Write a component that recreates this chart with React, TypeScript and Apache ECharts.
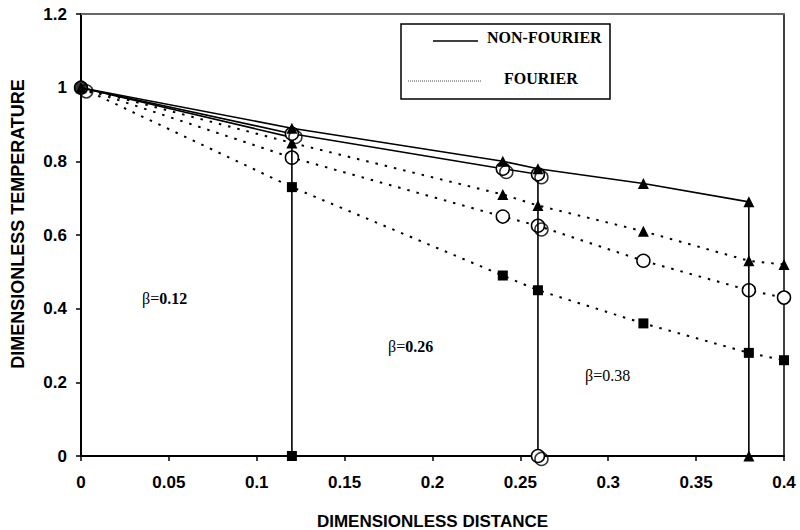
import React, { useEffect, useRef } from "react";
import * as echarts from "echarts";

// Non-Fourier (solid) curves, wave front at x = beta
const nf38X = [0, 0.12, 0.24, 0.26, 0.32, 0.38, 0.38];
const nf38Y = [1, 0.89, 0.8, 0.78, 0.74, 0.69, 0];
const nf26X = [0, 0.12, 0.24, 0.26, 0.26];
const nf26Y = [1, 0.875, 0.78, 0.765, 0];
const nf12X = [0, 0.12, 0.12];
const nf12Y = [1, 0.865, 0];

// Fourier (dotted) curves
const fX = [0, 0.12, 0.24, 0.26, 0.32, 0.38, 0.4];
const fTriY = [1, 0.85, 0.71, 0.68, 0.61, 0.53, 0.52];
const fCirY = [1, 0.81, 0.65, 0.625, 0.53, 0.45, 0.43];
const fSqY = [1, 0.73, 0.49, 0.45, 0.36, 0.28, 0.26];

// overlapping duplicate open circles
const dupCirX = [0.003, 0.122, 0.242, 0.262, 0.262, 0.262];
const dupCirY = [0.99, 0.866, 0.771, 0.757, 0.615, -0.008];

const originX = [0];
const originY = [1];

const betaLabels = ["β=", "β=", "β="];
const betaValues = ["0.12", "0.26", "0.38"];
const legendNames = ["NON-FOURIER", "FOURIER"];

const xName = "DIMENSIONLESS DISTANCE";
const yName = "DIMENSIONLESS TEMPERATURE";

const zip = (xs: number[], ys: number[]) => xs.map((x, i) => [x, ys[i]]);

export default function App() {
  const ref = useRef<HTMLDivElement>(null);
  useEffect(() => {
    if (!ref.current) return;
    const chart = echarts.init(ref.current, null, { renderer: "svg" });
    const sans = "Liberation Sans, Arial, sans-serif";
    const axisFont = {
      fontFamily: sans,
      fontWeight: "bold" as const,
      fontSize: 17,
      color: "#000",
    };
    const circleStyle = { color: "#fff", borderColor: "#000", borderWidth: 1.5 };
    const solid = { color: "#000", width: 1.6, type: "solid" as const };
    const dotted = { color: "#000", width: 2, type: [2.5, 7] as any };
    const triMarks = (xs: number[], ys: number[]) =>
      zip(xs, ys).map((v, i) => ({ value: v, symbol: i === 0 ? "none" : "triangle" }));
    const cirMarks = (xs: number[], ys: number[]) =>
      zip(xs, ys).map((v, i) => ({ value: v, symbol: i === 0 ? "none" : "circle" }));
    const nf12Data = zip(nf12X, nf12Y).map((v, i) => ({
      value: v,
      symbol: i === nf12X.length - 1 ? "rect" : "none",
    }));
    const serif = "Liberation Serif, Times New Roman, serif";
    const betaPos = [
      [142, 298],
      [388, 346],
      [585, 375],
    ];
    chart.setOption({
      animation: false,
      backgroundColor: "#fff",
      grid: { left: 81, right: 16, top: 14, bottom: 74, outerBoundsMode: "none", containLabel: false },
      xAxis: [
        {
          type: "value",
          min: 0,
          max: 0.4,
          interval: 0.05,
          name: xName,
          nameLocation: "middle",
          nameGap: 57,
          nameTextStyle: { ...axisFont, fontSize: 17 },
          axisLine: { show: true, lineStyle: { color: "#000", width: 2 } },
          axisTick: { show: true, inside: false, length: 5, lineStyle: { color: "#000", width: 1.5 } },
          axisLabel: { ...axisFont, margin: 18 },
          splitLine: { show: false },
        },
        {
          type: "value",
          position: "top",
          min: 0,
          max: 0.4,
          axisLine: { show: true, onZero: false, lineStyle: { color: "#666", width: 2 } },
          axisTick: { show: false },
          axisLabel: { show: false },
          splitLine: { show: false },
        },
      ],
      yAxis: [
        {
          type: "value",
          min: 0,
          max: 1.2,
          interval: 0.2,
          axisLine: { show: true, lineStyle: { color: "#000", width: 2 } },
          axisTick: { show: true, inside: false, length: 5, lineStyle: { color: "#000", width: 1.5 } },
          axisLabel: { ...axisFont, margin: 14 },
          splitLine: { show: false },
        },
        {
          type: "value",
          position: "right",
          min: 0,
          max: 1.2,
          axisLine: { show: true, onZero: false, lineStyle: { color: "#000", width: 1.5 } },
          axisTick: { show: false },
          axisLabel: { show: false },
          splitLine: { show: false },
        },
      ],
      series: [
        {
          type: "line",
          data: zip(fX, fSqY),
          symbol: "rect",
          symbolSize: 10,
          itemStyle: { color: "#000" },
          lineStyle: dotted,
          clip: false,
          z: 3,
        },
        {
          type: "line",
          data: zip(fX, fCirY),
          symbol: "circle",
          symbolSize: 13,
          itemStyle: circleStyle,
          lineStyle: dotted,
          clip: false,
          z: 3,
        },
        {
          type: "line",
          data: zip(fX, fTriY),
          symbol: "triangle",
          symbolSize: 11,
          itemStyle: { color: "#000" },
          lineStyle: dotted,
          clip: false,
          z: 3,
        },
        {
          type: "line",
          data: nf12Data,
          symbolSize: 10,
          itemStyle: { color: "#000" },
          lineStyle: solid,
          clip: false,
          z: 4,
        },
        {
          type: "line",
          data: cirMarks(nf26X, nf26Y),
          symbolSize: 13,
          itemStyle: circleStyle,
          lineStyle: solid,
          clip: false,
          z: 4,
        },
        {
          type: "scatter",
          data: zip(dupCirX, dupCirY),
          symbol: "circle",
          symbolSize: 13,
          itemStyle: { color: "rgba(255,255,255,0)", borderColor: "#000", borderWidth: 1.5 },
          clip: false,
          z: 5,
        },
        {
          type: "line",
          data: triMarks(nf38X, nf38Y),
          symbolSize: 11,
          itemStyle: { color: "#000" },
          lineStyle: solid,
          clip: false,
          z: 5,
        },
        {
          type: "scatter",
          data: zip(originX, originY),
          symbol: "circle",
          symbolSize: 13,
          itemStyle: { color: "#000" },
          clip: false,
          z: 6,
        },
      ],
      graphic: [
        {
          type: "text",
          x: 18,
          y: 224,
          rotation: Math.PI / 2,
          style: {
            text: yName,
            font: `bold 18px ${sans}`,
            fill: "#000",
            align: "center",
            verticalAlign: "middle",
          },
          z: 11,
        },
        {
          type: "rect",
          shape: { x: 401, y: 24, width: 209, height: 75 },
          style: { fill: "#fff", stroke: "#000", lineWidth: 1.5 },
          z: 10,
        },
        {
          type: "line",
          shape: { x1: 433, y1: 41, x2: 478, y2: 41 },
          style: { stroke: "#000", lineWidth: 1.5 },
          z: 11,
        },
        {
          type: "text",
          x: 487,
          y: 37,
          style: {
            text: legendNames[0],
            font: `bold 16px ${serif}`,
            fill: "#000",
            verticalAlign: "middle",
          },
          z: 11,
        },
        {
          type: "line",
          shape: { x1: 408, y1: 81, x2: 482, y2: 81 },
          style: { stroke: "#222", lineWidth: 0.8, lineDash: [1, 1] },
          z: 11,
        },
        {
          type: "text",
          x: 504,
          y: 78,
          style: {
            text: legendNames[1],
            font: `bold 16px ${serif}`,
            fill: "#000",
            verticalAlign: "middle",
          },
          z: 11,
        },
        ...betaPos.map((p, i) => ({
          type: "text",
          x: p[0],
          y: p[1],
          style: {
            text: `{a|${betaLabels[i]}}{b|${betaValues[i]}}`,
            fill: "#000",
            rich: {
              a: { fontFamily: serif, fontSize: 16, fill: "#000", color: "#000" },
              b: {
                fontFamily: serif,
                fontSize: 16,
                fontWeight: i < 2 ? "bold" : "normal",
                fill: "#000",
                color: "#000",
              },
            },
            verticalAlign: "middle",
          },
          z: 11,
        })),
      ],
    });
    return () => chart.dispose();
  }, []);
  return (
    <div
      ref={ref}
      style={{ position: "fixed", left: 0, top: 0, width: 800, height: 530, background: "#fff" }}
    />
  );
}
